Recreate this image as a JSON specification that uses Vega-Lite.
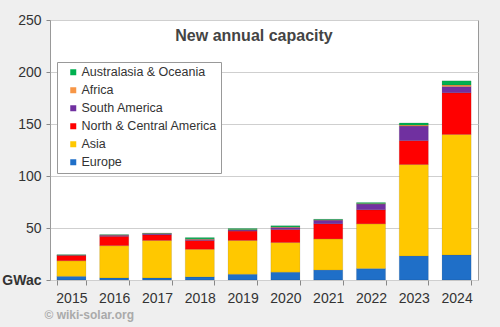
{
  "$schema": "https://vega.github.io/schema/vega-lite/v6.json",
  "width": 428,
  "height": 260,
  "autosize": "none",
  "padding": {"left": 50, "top": 20, "right": 22, "bottom": 47},
  "background": "#efefef",
  "title": {"text": "New annual capacity", "fontSize": 16, "fontWeight": "bold", "color": "#444", "font": "Liberation Sans", "anchor": "middle", "baseline": "top", "offset": -31, "dx": -10},
  "data": {"values": [
    {"year": "2015", "region": "Europe", "v": 3.5}, {"year": "2015", "region": "Asia", "v": 15}, {"year": "2015", "region": "North & Central America", "v": 5}, {"year": "2015", "region": "South America", "v": 0.3}, {"year": "2015", "region": "Africa", "v": 0.2}, {"year": "2015", "region": "Australasia & Oceania", "v": 0.3},
    {"year": "2016", "region": "Europe", "v": 2}, {"year": "2016", "region": "Asia", "v": 31}, {"year": "2016", "region": "North & Central America", "v": 9}, {"year": "2016", "region": "South America", "v": 1}, {"year": "2016", "region": "Africa", "v": 0.3}, {"year": "2016", "region": "Australasia & Oceania", "v": 0.3},
    {"year": "2017", "region": "Europe", "v": 2}, {"year": "2017", "region": "Asia", "v": 36}, {"year": "2017", "region": "North & Central America", "v": 5.5}, {"year": "2017", "region": "South America", "v": 1}, {"year": "2017", "region": "Africa", "v": 0.3}, {"year": "2017", "region": "Australasia & Oceania", "v": 0.3},
    {"year": "2018", "region": "Europe", "v": 3}, {"year": "2018", "region": "Asia", "v": 26.5}, {"year": "2018", "region": "North & Central America", "v": 8.5}, {"year": "2018", "region": "South America", "v": 1}, {"year": "2018", "region": "Africa", "v": 0.5}, {"year": "2018", "region": "Australasia & Oceania", "v": 1.3},
    {"year": "2019", "region": "Europe", "v": 5.5}, {"year": "2019", "region": "Asia", "v": 32.5}, {"year": "2019", "region": "North & Central America", "v": 9}, {"year": "2019", "region": "South America", "v": 1}, {"year": "2019", "region": "Africa", "v": 0.5}, {"year": "2019", "region": "Australasia & Oceania", "v": 1},
    {"year": "2020", "region": "Europe", "v": 7.5}, {"year": "2020", "region": "Asia", "v": 28.5}, {"year": "2020", "region": "North & Central America", "v": 12.5}, {"year": "2020", "region": "South America", "v": 2}, {"year": "2020", "region": "Africa", "v": 0.5}, {"year": "2020", "region": "Australasia & Oceania", "v": 1.2},
    {"year": "2021", "region": "Europe", "v": 9.5}, {"year": "2021", "region": "Asia", "v": 30}, {"year": "2021", "region": "North & Central America", "v": 14.5}, {"year": "2021", "region": "South America", "v": 3.5}, {"year": "2021", "region": "Africa", "v": 0.3}, {"year": "2021", "region": "Australasia & Oceania", "v": 0.6},
    {"year": "2022", "region": "Europe", "v": 11}, {"year": "2022", "region": "Asia", "v": 43}, {"year": "2022", "region": "North & Central America", "v": 13.5}, {"year": "2022", "region": "South America", "v": 5.5}, {"year": "2022", "region": "Africa", "v": 0.5}, {"year": "2022", "region": "Australasia & Oceania", "v": 1},
    {"year": "2023", "region": "Europe", "v": 23}, {"year": "2023", "region": "Asia", "v": 88}, {"year": "2023", "region": "North & Central America", "v": 23}, {"year": "2023", "region": "South America", "v": 14}, {"year": "2023", "region": "Africa", "v": 1}, {"year": "2023", "region": "Australasia & Oceania", "v": 2},
    {"year": "2024", "region": "Europe", "v": 24}, {"year": "2024", "region": "Asia", "v": 116}, {"year": "2024", "region": "North & Central America", "v": 40}, {"year": "2024", "region": "South America", "v": 6}, {"year": "2024", "region": "Africa", "v": 1.5}, {"year": "2024", "region": "Australasia & Oceania", "v": 4}
  ]},
  "transform": [
    {"calculate": "indexof(['Europe','Asia','North & Central America','South America','Africa','Australasia & Oceania'], datum.region)", "as": "k"}
  ],
  "mark": {"type": "bar", "stroke": "#000", "strokeOpacity": 0.12, "strokeWidth": 0.8},
  "encoding": {
    "x": {"field": "year", "type": "nominal", "scale": {"paddingInner": 0.32, "paddingOuter": 0.16},
      "axis": {"labelAngle": 0, "labelFontSize": 14, "labelColor": "#333", "labelPadding": 6, "tickBand": "extent", "ticks": true, "tickSize": 5, "tickColor": "#888", "domain": false, "grid": false,
        "title": "© wiki-solar.org", "titleAnchor": "start", "titleAlign": "left", "titleX": -6, "titleY": 38, "titleFontSize": 12, "titleFontWeight": "bold", "titleColor": "#aaa", "titleBaseline": "alphabetic"}},
    "y": {"field": "v", "type": "quantitative", "stack": "zero", "scale": {"domain": [0, 250], "nice": false},
      "axis": {"values": [0, 50, 100, 150, 200, 250], "title": null, "labelFontSize": 14, "labelColor": "#333", "labelPadding": 5, "tickSize": 4, "tickColor": "#888", "domain": false, "gridColor": "#cfcfcf",
        "labelExpr": "datum.value == 0 ? 'GWac' : datum.label",
        "labelFontWeight": {"condition": {"test": "datum.value == 0", "value": "bold"}, "value": "normal"}}},
    "color": {"field": "region", "type": "nominal",
      "scale": {"domain": ["Australasia & Oceania", "Africa", "South America", "North & Central America", "Asia", "Europe"],
        "range": ["#00b050", "#f79646", "#7030a0", "#ff0000", "#ffc800", "#1f6fc8"]},
      "legend": {"title": null, "orient": "none", "legendX": 7, "legendY": 42, "strokeColor": "#999", "fillColor": "#ffffff", "padding": 4,
        "symbolType": "square", "symbolSize": 36, "symbolStrokeWidth": 0, "symbolOffset": 6, "labelFontSize": 12.5, "labelColor": "#333", "rowPadding": 5, "labelOffset": 2, "labelLimit": 300}},
    "order": {"field": "k", "type": "quantitative"}
  },
  "config": {
    "font": "Liberation Sans",
    "view": {"fill": "#ffffff", "stroke": "#999", "strokeWidth": 1}
  }
}
